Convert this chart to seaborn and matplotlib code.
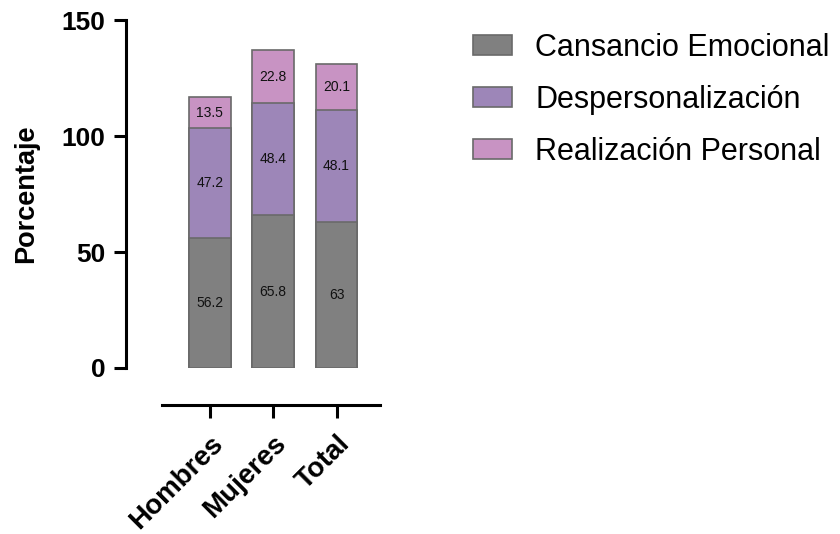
import numpy as np
import pandas as pd
import seaborn as sns
import matplotlib.pyplot as plt

# data
grupos = ['Hombres', 'Mujeres', 'Total']
series = ['Cansancio Emocional', 'Despersonalización', 'Realización Personal']
cansancio = [56.2, 65.8, 63]
desperson = [47.2, 48.4, 48.1]
realizacion = [13.5, 22.8, 20.1]
yticks = [0, 50, 100, 150]
colores = ['#808080', '#9d86b8', '#c893c3']

sns.set_theme(style='ticks')
plt.rcParams['font.family'] = ['Liberation Sans', 'DejaVu Sans']
plt.rcParams['text.color'] = 'black'
plt.rcParams['axes.labelcolor'] = 'black'
plt.rcParams['xtick.color'] = 'black'
plt.rcParams['ytick.color'] = 'black'

valores = np.array([cansancio, desperson, realizacion])
acum = valores.cumsum(axis=0)

fig = plt.figure(figsize=(8.4, 5.34), dpi=100)
ax = fig.add_axes([0.193, 0.311, 0.259, 0.651])

# stacked bars: draw cumulative totals from top down so lower ones cover
for i in reversed(range(3)):
    df = pd.DataFrame({'grupo': grupos, 'valor': acum[i]})
    sns.barplot(data=df, x='grupo', y='valor', color=colores[i], width=0.66,
                edgecolor='#6a6a6a', linewidth=1.2, saturation=1, ax=ax)

# value labels
for i in range(3):
    for j in range(3):
        base = acum[i][j] - valores[i][j]
        ax.text(j, base + valores[i][j] / 2, f'{valores[i][j]:g}', ha='center', va='center',
                fontsize=10, color='#111111')

ax.set_xlim(-0.75, 2.68)
ax.set_ylim(0, 150)
ax.set_yticks(yticks)
ax.set_xlabel('')
ax.set_ylabel('Porcentaje', fontsize=19.5, fontweight='bold', labelpad=16)
ax.tick_params(axis='y', length=9, width=2.2, pad=6, labelsize=19)
ax.tick_params(axis='x', length=9, width=2.2, pad=9, labelsize=20, labelrotation=45)

sns.despine(ax=ax)
ax.spines['left'].set_position(('outward', 26))
ax.spines['bottom'].set_position(('outward', 27))
for s in ['left', 'bottom']:
    ax.spines[s].set_linewidth(2.2)
    ax.spines[s].set_color('black')

handles = [plt.Rectangle((0, 0), 1, 1, facecolor=c, edgecolor='#6a6a6a', linewidth=1.2) for c in colores]
fig.legend(handles, series, loc='upper left', bbox_to_anchor=(0.53, 0.99), frameon=False,
           prop={'size': 22}, handlelength=1.3, handleheight=0.6, handletextpad=0.75,
           labelspacing=0.72)

# tick label styling after the first draw (ticks are regenerated by then)
fig.canvas.draw()
for lab in ax.get_yticklabels():
    lab.set_fontweight('bold')
for lab in ax.get_xticklabels():
    lab.set_fontweight('bold')
    lab.set_ha('right')
    lab.set_rotation_mode('anchor')

fig.savefig('out.png', dpi=100)
